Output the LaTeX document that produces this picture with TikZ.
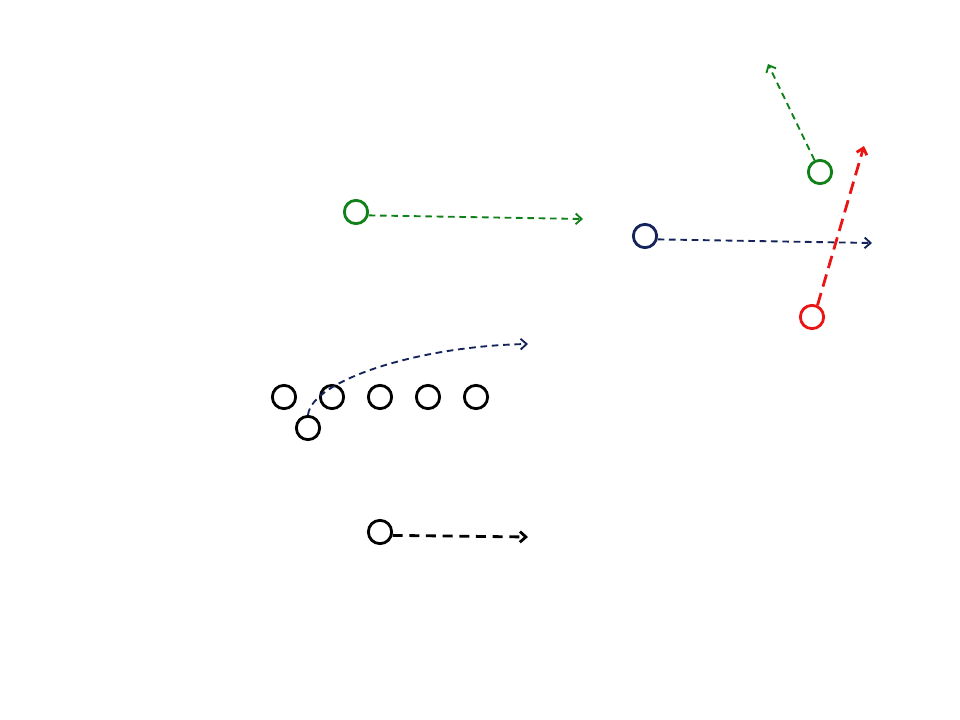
\documentclass[tikz,border=0pt]{standalone}
\usetikzlibrary{arrows.meta}
\definecolor{pgreen}{RGB}{16,128,24}
\definecolor{pnavy}{RGB}{20,36,90}
\definecolor{pred}{RGB}{235,20,20}
\begin{document}
\begin{tikzpicture}[x=0.75pt,y=-0.75pt,
  player/.style={circle,draw,line width=2.1pt,minimum size=17.5pt,inner sep=0pt},
  route/.style={line width=1.4pt,dash pattern=on 5pt off 3.5pt,-{Straight Barb[length=4.5pt,width=8pt,line width=1.4pt]}},
  heavy/.style={line width=2.1pt,dash pattern=on 7.5pt off 5pt,-{Straight Barb[length=4.5pt,width=8pt,line width=2.1pt]}}]
\useasboundingbox (0,0) rectangle (960,720);
% top-right group
\node[player,draw=pgreen] (g2) at (820,172) {};
\coordinate (g2e) at (768,64);
\draw[route,pgreen] (g2.115) -- (g2e);
\node[player,draw=pnavy] (n1) at (645,236) {};
\coordinate (n1e) at (872,243);
\draw[route,pnavy] (n1.-15) -- (n1e);
\node[player,draw=pred] (r1) at (812,317) {};
\coordinate (r1e) at (864,146);
\draw[heavy,pred,dash pattern=on 9.5pt off 5pt] (r1.65) -- (r1e);
% left green
\node[player,draw=pgreen] (g1) at (356,212) {};
\coordinate (g1e) at (583,219);
\draw[route,pgreen] (g1.-15) -- (g1e);
% line
\node[player] (l1) at (284,397) {};
\node[player] (l2) at (332,397) {};
\node[player] (l3) at (380,397) {};
\node[player] (l4) at (428,397) {};
\node[player] (l5) at (476,397) {};
\node[player] (b1) at (308,428) {};
\coordinate (b1e) at (528,344);
\draw[route,pnavy] (b1.north) .. controls (312,380) and (420,346) .. (b1e);
% bottom
\node[player] (q1) at (380,532) {};
\coordinate (q1e) at (528,537);
\draw[heavy] (q1.-15) -- (q1e);
\end{tikzpicture}
\end{document}
